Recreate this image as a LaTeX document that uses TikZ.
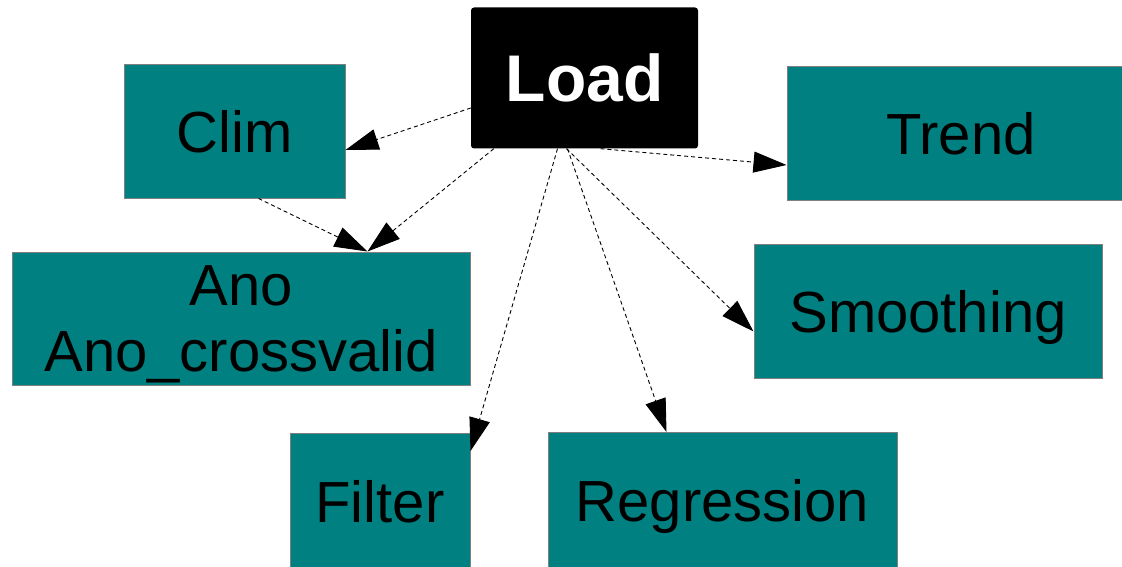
\documentclass[tikz,border=0pt]{standalone}
\usepackage{fontspec}
\setmainfont{Liberation Sans}
\usetikzlibrary{arrows.meta}
\definecolor{teal}{HTML}{008080}
\begin{document}
\begin{tikzpicture}[x=1pt,y=-1pt,
  box/.style={draw=gray, line width=1pt, fill=teal, text=black, inner sep=0pt,
    text depth=0pt, font=\fontsize{58}{66}\selectfont, align=center},
  loadbox/.style={fill=black, rounded corners=3pt, text=white, inner sep=0pt, text depth=0pt,
    font=\fontsize{66}{70}\selectfont\bfseries, minimum width=227pt, minimum height=141pt},
  arr/.style={draw=black, line width=0.9pt, dash pattern=on 4pt off 3pt,
    -{Triangle[length=33pt,width=21pt]}}]
\useasboundingbox (0,0) rectangle (1122,567);
\node[loadbox] (load) at (584.5,78) {Load};
\node[box, minimum width=221pt, minimum height=133pt] (clim) at (234.5,131.5) {Clim};
\node[box, minimum width=348pt, minimum height=133pt] (trend) at (961,133.5) {Trend};
\node[box, minimum width=458pt, minimum height=133pt] (ano) at (241,318.5) {Ano\\Ano\_crossvalid};
\node[box, minimum width=348pt, minimum height=134pt] (smooth) at (928,311) {Smoothing};
\node[box, minimum width=180pt, minimum height=136pt] (filter) at (380,501.5) {Filter};
\node[box, minimum width=349pt, minimum height=136pt] (regr) at (722.5,500.5) {Regression};
\draw[arr] ([yshift=-30pt]load.west) -- ([yshift=-18.5pt]clim.east);
\draw[arr] ([xshift=16pt]load.south) -- ([yshift=-31.5pt]trend.west);
\draw[arr] ([xshift=23pt]load.south west) -- ([xshift=356pt]ano.north west);
\draw[arr] ([xshift=24pt]clim.south) -- ([xshift=356pt]ano.north west);
\draw[arr] ([xshift=-27pt]load.south) -- ([yshift=-18pt]filter.north east);
\draw[arr] ([xshift=-17pt]load.south) -- ([xshift=119pt]regr.north west);
\draw[arr] ([xshift=-18pt]load.south) -- ([yshift=-88pt]smooth.north west);
\end{tikzpicture}
\end{document}
